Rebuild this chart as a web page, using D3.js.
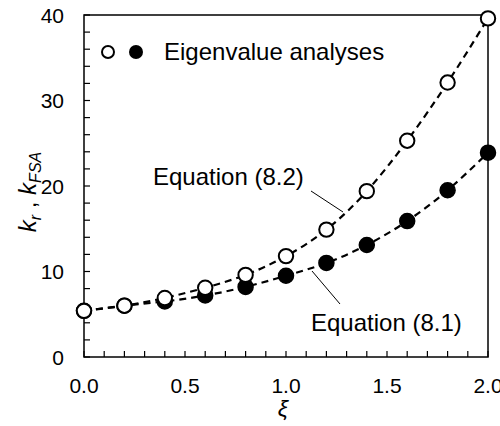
<!DOCTYPE html>
<html>
<head>
<meta charset="utf-8">
<script src="https://cdn.jsdelivr.net/npm/d3@7"></script>
<style>
  body { margin: 0; background: white; }
  text { font-family: Arial, "Liberation Sans", sans-serif; fill: black; }
</style>
</head>
<body>
<div id="chart"></div>
<script>
// xi values and the two eigenvalue series
const xiValues = [0.0, 0.2, 0.4, 0.6, 0.8, 1.0, 1.2, 1.4, 1.6, 1.8, 2.0];
const kFSA = [5.4, 6.0, 6.9, 8.1, 9.6, 11.8, 14.9, 19.4, 25.3, 32.1, 39.6];
const kr = [5.4, 6.0, 6.5, 7.2, 8.2, 9.5, 11.0, 13.1, 15.9, 19.5, 23.9];
const xTickLabels = [0.0, 0.5, 1.0, 1.5, 2.0];
const yTickLabels = [0, 10, 20, 30, 40];

const W = 500, H = 426;
const margin = { left: 84, right: 12, top: 15, bottom: 69 };

const svg = d3.select("#chart").append("svg")
  .attr("width", W).attr("height", H);

const x = d3.scaleLinear().domain([0, 2]).range([margin.left, W - margin.right]);
const y = d3.scaleLinear().domain([0, 40]).range([H - margin.bottom, margin.top]);

const x0 = x(0), x1 = x(2), y0 = y(0), y1 = y(40);

// minor ticks (inside)
const tickLen = 6;
d3.range(0, 2.0001, 0.1).forEach(v => {
  svg.append("line")
    .attr("x1", x(v)).attr("x2", x(v))
    .attr("y1", y0).attr("y2", y0 - tickLen)
    .attr("stroke", "black").attr("stroke-width", 1.2);
});
d3.range(0, 40.001, 2).forEach(v => {
  svg.append("line")
    .attr("x1", x0).attr("x2", x0 + tickLen)
    .attr("y1", y(v)).attr("y2", y(v))
    .attr("stroke", "black").attr("stroke-width", 1.2);
});

// frame
svg.append("rect")
  .attr("x", x0).attr("y", y1)
  .attr("width", x1 - x0).attr("height", y0 - y1)
  .attr("fill", "none").attr("stroke", "black").attr("stroke-width", 1.5);

// tick labels
svg.selectAll(".xl").data(xTickLabels).enter().append("text")
  .attr("x", d => x(d)).attr("y", y0 + 36)
  .attr("text-anchor", "middle").attr("font-size", 21)
  .text(d => d.toFixed(1));
svg.selectAll(".yl").data(yTickLabels).enter().append("text")
  .attr("x", x0 - 20).attr("y", d => y(d) + 7.5)
  .attr("text-anchor", "end").attr("font-size", 21)
  .text(d => d);

// axis titles
svg.append("text")
  .attr("x", x(1) - 3).attr("y", 416)
  .attr("text-anchor", "middle")
  .attr("font-family", "'Liberation Serif', 'Times New Roman', serif")
  .attr("font-style", "italic").attr("font-size", 23)
  .text("ξ");

const yt = svg.append("text")
  .attr("transform", "translate(36,192) rotate(-90)")
  .attr("text-anchor", "middle").attr("font-size", 24);
yt.append("tspan").attr("font-style", "italic").text("k");
yt.append("tspan").attr("font-style", "italic").attr("font-size", 16).attr("dy", 5).text("r");
yt.append("tspan").attr("dy", -5).text(" , ");
yt.append("tspan").attr("font-style", "italic").text("k");
yt.append("tspan").attr("font-style", "italic").attr("font-size", 16).attr("dy", 5).text("FSA");

// dashed equation curves
const line = d3.line().curve(d3.curveNatural).x(d => x(d[0])).y(d => y(d[1]));
[kr, kFSA].forEach(series => {
  svg.append("path")
    .datum(xiValues.map((v, i) => [v, series[i]]))
    .attr("d", line)
    .attr("fill", "none").attr("stroke", "black")
    .attr("stroke-width", 2.2).attr("stroke-dasharray", "7,5");
});

// leader lines + labels
svg.append("line").attr("x1", 311).attr("y1", 191).attr("x2", 343).attr("y2", 212)
  .attr("stroke", "black").attr("stroke-width", 1);
svg.append("text").attr("x", 153).attr("y", 185).attr("font-size", 24).text("Equation (8.2)");
svg.append("line").attr("x1", 312).attr("y1", 271).attr("x2", 340).attr("y2", 304)
  .attr("stroke", "black").attr("stroke-width", 1);
svg.append("text").attr("x", 311).attr("y", 331).attr("font-size", 24).text("Equation (8.1)");

// points
svg.selectAll(".pr").data(xiValues).enter().append("circle")
  .attr("cx", d => x(d)).attr("cy", (d, i) => y(kr[i])).attr("r", 7.5)
  .attr("fill", "black").attr("stroke", "black").attr("stroke-width", 1.5);
svg.selectAll(".pf").data(xiValues).enter().append("circle")
  .attr("cx", d => x(d)).attr("cy", (d, i) => y(kFSA[i])).attr("r", 7.2)
  .attr("fill", "white").attr("stroke", "black").attr("stroke-width", 2);

// legend
svg.append("circle").attr("cx", 108).attr("cy", 52).attr("r", 6)
  .attr("fill", "white").attr("stroke", "black").attr("stroke-width", 2);
svg.append("circle").attr("cx", 136).attr("cy", 52).attr("r", 7)
  .attr("fill", "black");
svg.append("text").attr("x", 164).attr("y", 60).attr("font-size", 24).text("Eigenvalue analyses");
</script>
</body>
</html>
